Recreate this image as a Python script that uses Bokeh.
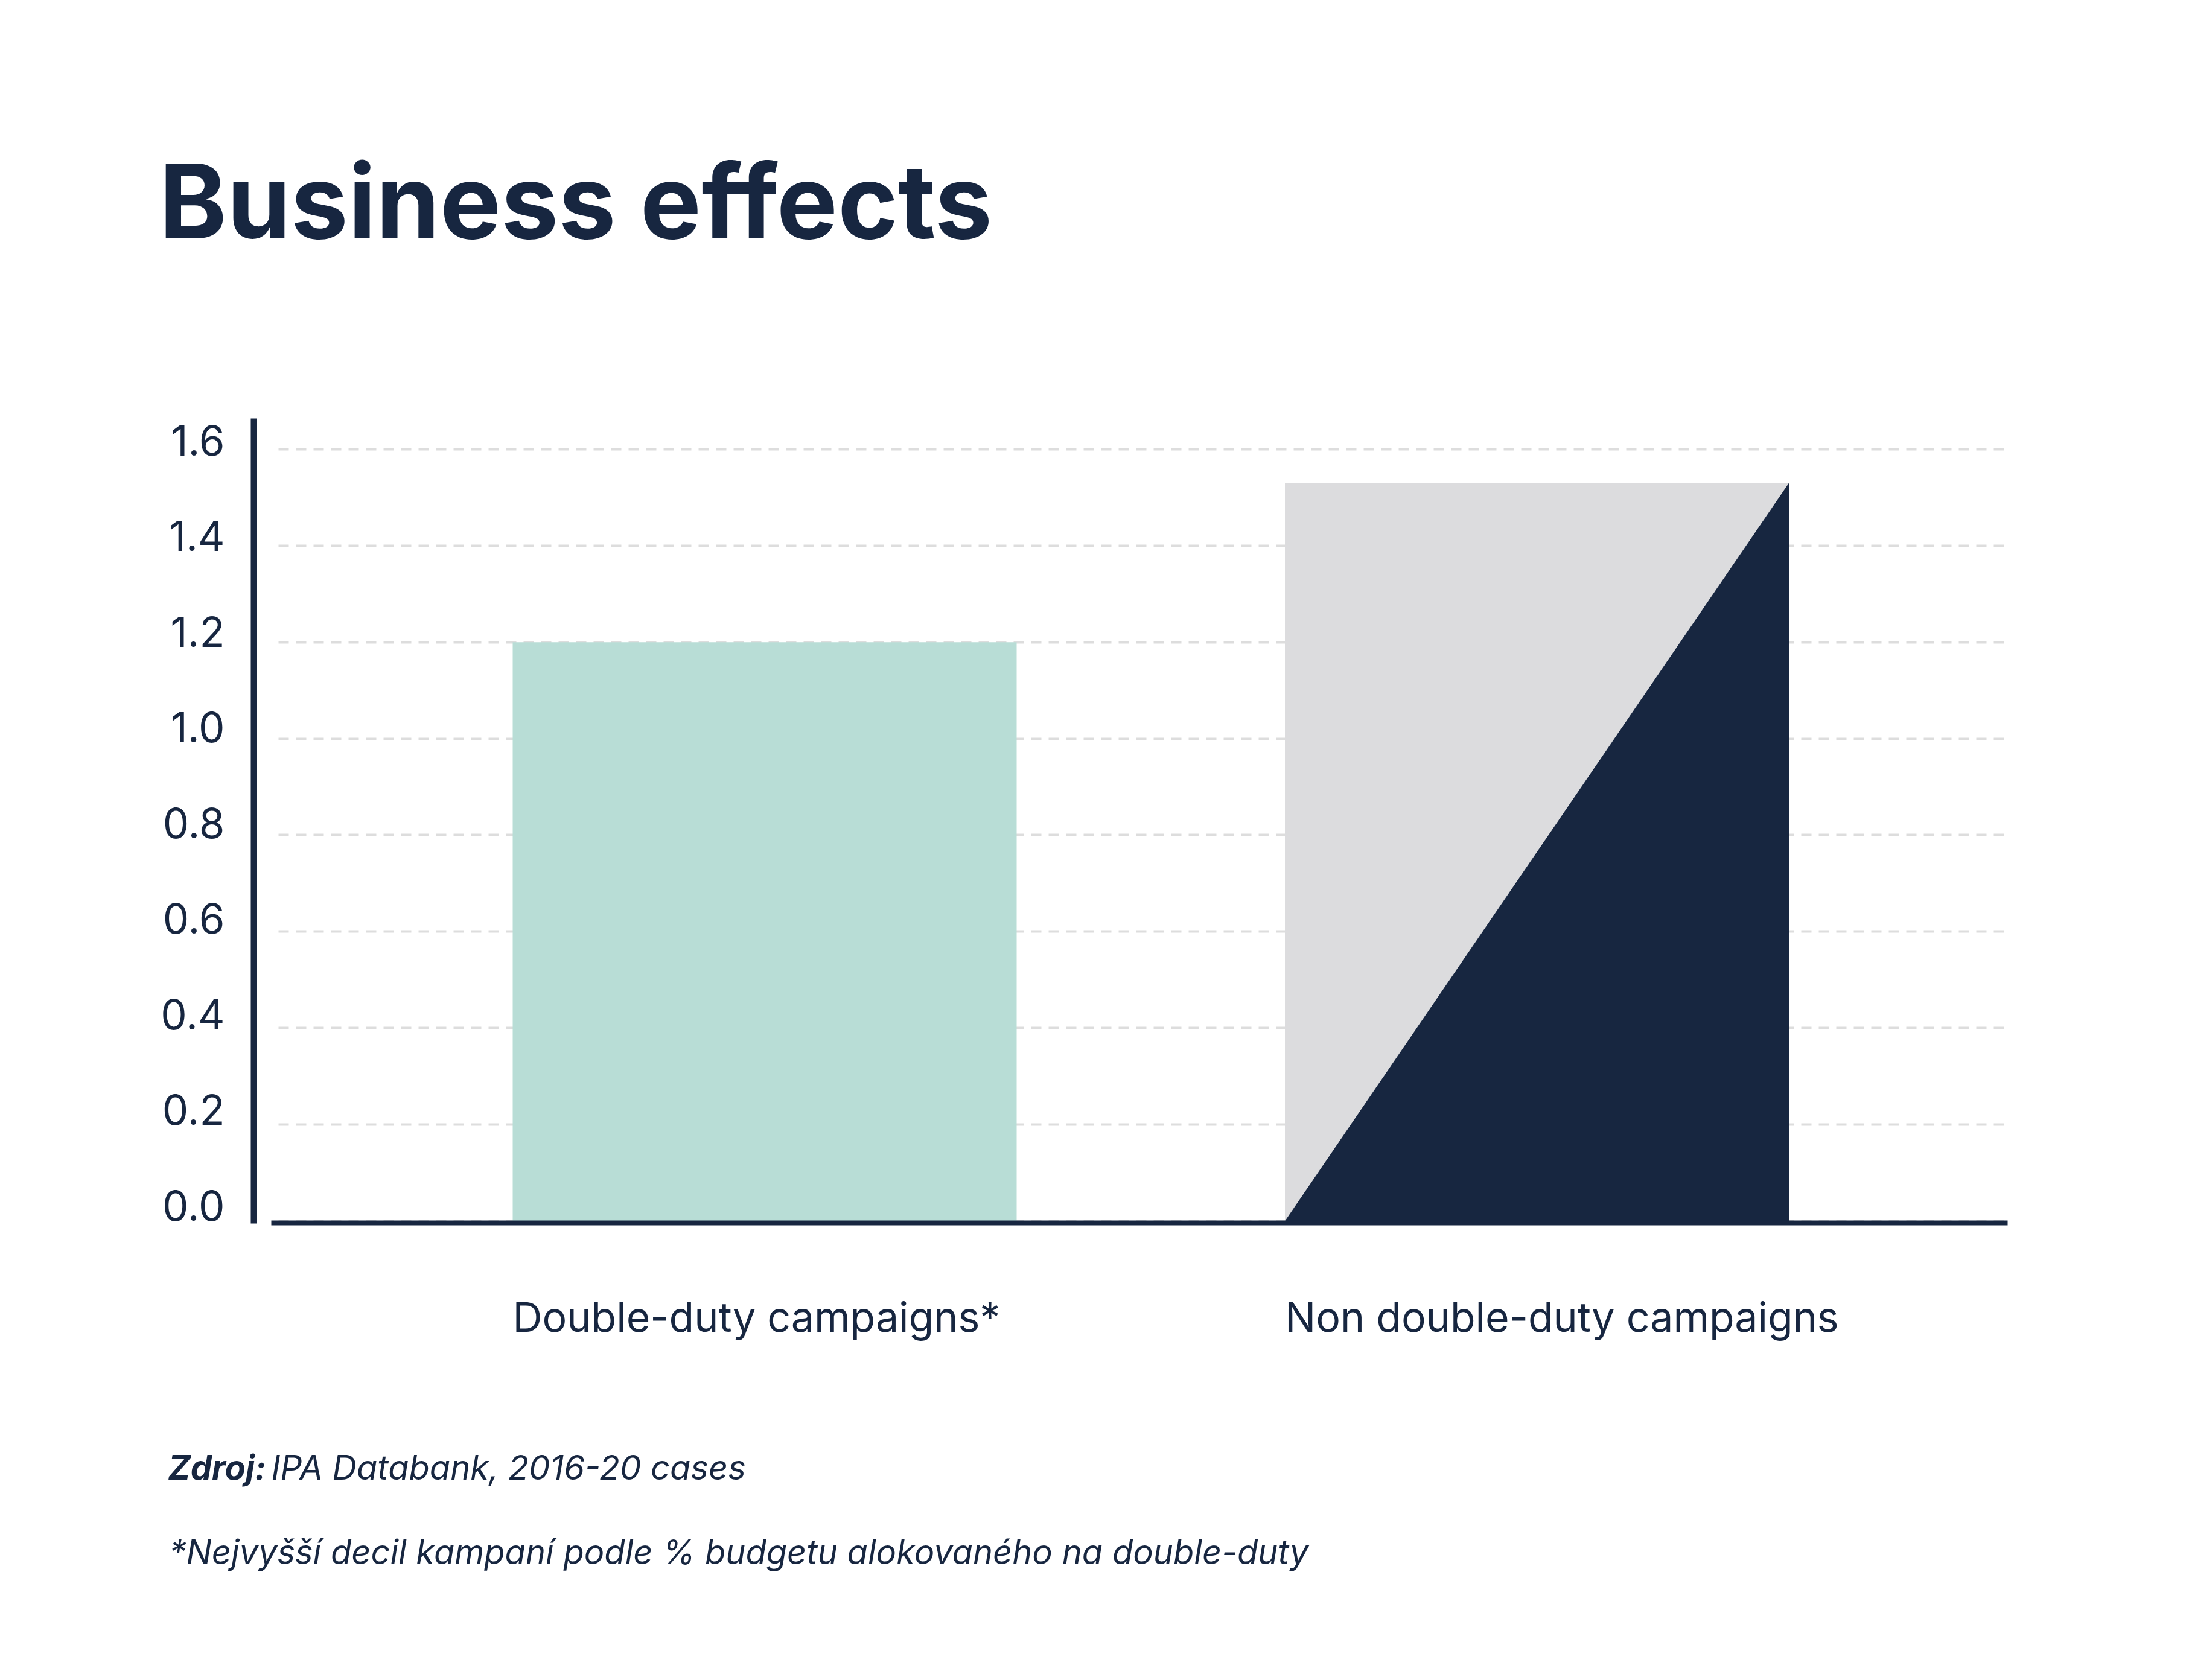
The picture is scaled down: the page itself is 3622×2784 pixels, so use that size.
from bokeh.plotting import figure
from bokeh.models import Range1d, FixedTicker, ColumnDataSource
from bokeh.core.properties import value
from bokeh.embed import file_html
from bokeh.resources import INLINE

# ---- data ----
categories = ["Double-duty campaigns*", "Non double-duty campaigns"]
positions = [1, 2]
values = [1.2, 1.53]
y_ticks = [0.0, 0.2, 0.4, 0.6, 0.8, 1.0, 1.2, 1.4, 1.6]
y_tick_labels = ["0.0", "0.2", "0.4", "0.6", "0.8", "1.0", "1.2", "1.4", "1.6"]
title_text = "Business effects"
source_bold = "Zdroj:"
source_text = "IPA Databank, 2016-20 cases"
footnote_text = "*Nejvyšší decil kampaní podle % budgetu alokovaného na double-duty"

# ---- style / layout ----
NAVY = "#172640"
MINT = "#B8DDD6"
GRAY = "#DCDCDE"
GRID = "#DDDDDD"
FONT = "Inter"
BAR_W = 0.6526
W, H = 3600, 2760
FL, FR, FT, FB = 200, 3600, 0, 2660          # frame edges in canvas px
PX_X0, PX_PER_X = 1266.5, 1279.5             # canvas px of x=1, px per unit
PX_Y0, PX_PER_Y = 2023.0, 799.4              # canvas px of y=0, px per unit
BASELINE_FIX = 0.375                         # text baseline correction (em)
LABEL_SCALE = 792.5 / 799.4                  # tick labels sit on a slightly tighter scale


def dx(px):
    return 1 + (px - PX_X0) / PX_PER_X


def dy(py):
    return (PX_Y0 - py) / PX_PER_Y


def ty(baseline_px, size):
    return dy(baseline_px - BASELINE_FIX * size)


p = figure(width=W, height=H, output_backend="svg", toolbar_location=None, title=None,
           x_range=Range1d(dx(FL), dx(FR)), y_range=Range1d(dy(FB), dy(FT)),
           min_border_left=FL, min_border_right=W - FR,
           min_border_top=FT, min_border_bottom=H - FB)
p.outline_line_color = None
p.background_fill_color = "white"
p.border_fill_color = "white"

src = ColumnDataSource(dict(x=positions, top=values, color=[MINT, GRAY]))
p.vbar(x="x", top="top", width=BAR_W, fill_color="color", line_color=None, source=src)

# diagonal dark half of the second bar
xb, tb = positions[1], values[1]
p.patch([xb - BAR_W / 2, xb + BAR_W / 2, xb + BAR_W / 2], [0, 0, tb],
        fill_color=NAVY, line_color=None)

# y axis (line only; labels drawn as text below)
yt = FixedTicker(ticks=y_ticks)
ya = p.yaxis[0]
ya.fixed_location = dx(420)
ya.bounds = (dy(2027), dy(693))
ya.ticker = FixedTicker(ticks=[])
ya.axis_line_color = NAVY
ya.axis_line_width = 10
ya.major_tick_line_color = None
ya.minor_tick_line_color = None

# y tick labels
lbl_size = 69
p.text(x=[dx(372)] * len(y_ticks),
       y=[v * LABEL_SCALE + BASELINE_FIX * lbl_size / PX_PER_Y for v in y_ticks],
       text=y_tick_labels, text_font=value(FONT), text_font_size=value(f"{lbl_size}px"),
       text_color=NAVY, text_align=value("right"), text_baseline=value("alphabetic"))

# x axis (baseline)
xa = p.xaxis[0]
xa.fixed_location = dy(2026)
xa.bounds = (dx(449), dx(3326))
xa.ticker = FixedTicker(ticks=[])
xa.axis_line_color = NAVY
xa.axis_line_width = 8
xa.major_tick_line_color = None
xa.minor_tick_line_color = None

# category labels, left-aligned under each bar
p.text(x=[x - BAR_W / 2 for x in positions], y=[ty(2207, 68)] * len(positions), text=categories,
       text_font=value(FONT), text_font_size=value("68px"), text_color=NAVY,
       text_align=value("left"), text_baseline=value("alphabetic"))

# grid
p.xgrid.visible = False
g = p.ygrid[0]
g.ticker = yt
g.grid_line_color = GRID
g.grid_line_width = 4
g.grid_line_dash = "17 12"
if "cross_bounds" in g.properties():
    g.cross_bounds = (dx(461), dx(3322))

# title
p.text(x=[dx(263)], y=[ty(396.5, 170)], text=[title_text], text_font=value(FONT),
       text_font_size=value("170px"), text_font_style=value("bold"),
       text_color=NAVY, text_align=value("left"), text_baseline=value("alphabetic"))

# source + footnote
p.text(x=[dx(278)], y=[ty(2452.5, 56)], text=[source_bold], text_font=value(FONT),
       text_font_size=value("56px"), text_font_style=value("bold italic"),
       text_color=NAVY, text_align=value("left"), text_baseline=value("alphabetic"))
p.text(x=[dx(449)], y=[ty(2452.5, 56)], text=[source_text], text_font=value(FONT),
       text_font_size=value("56px"), text_font_style=value("italic"),
       text_color=NAVY, text_align=value("left"), text_baseline=value("alphabetic"))
p.text(x=[dx(280)], y=[ty(2592.5, 56)], text=[footnote_text], text_font=value(FONT),
       text_font_size=value("56px"), text_font_style=value("italic"),
       text_color=NAVY, text_align=value("left"), text_baseline=value("alphabetic"))

open("out.html", "w").write(file_html(p, INLINE))
